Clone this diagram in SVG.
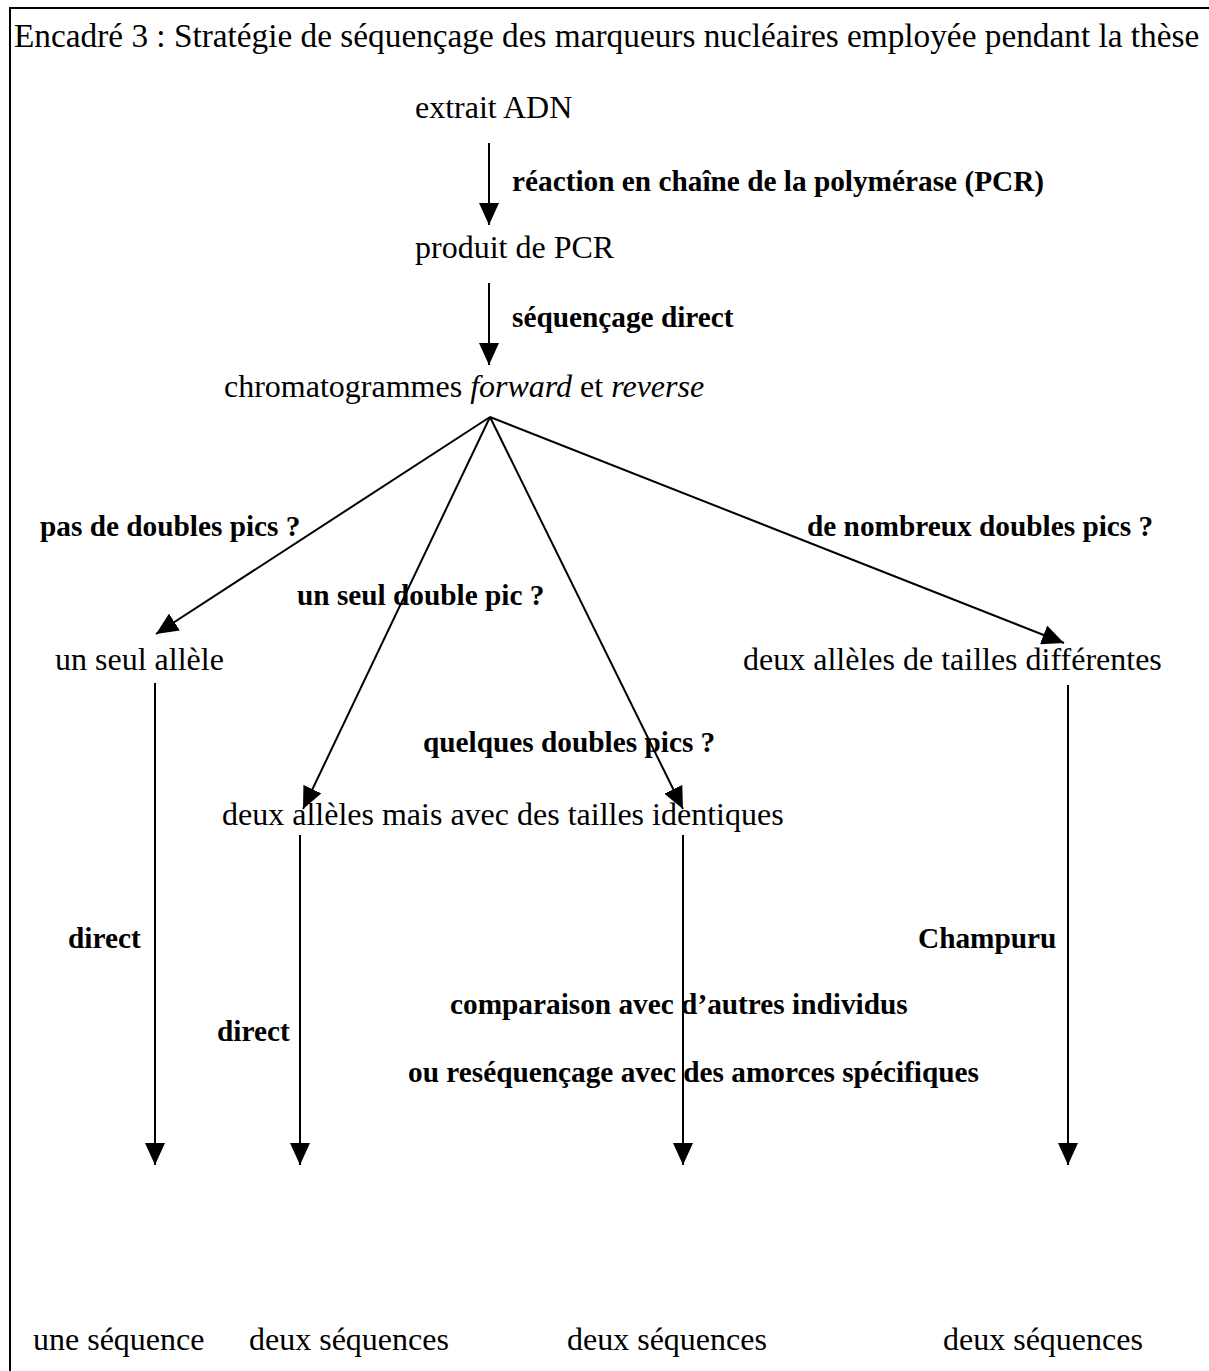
<svg xmlns="http://www.w3.org/2000/svg" width="1209" height="1371" viewBox="0 0 1209 1371">
<style>
.t{font-family:"Liberation Serif","Times New Roman",serif;font-size:32px;fill:#000}
.ttl{font-family:"Liberation Serif","Times New Roman",serif;font-size:33.3px;fill:#000}
.b{font-family:"Liberation Serif","Times New Roman",serif;font-size:29.3px;font-weight:bold;fill:#000}
.c{stroke:#000;stroke-width:2;fill:none}
</style>
<defs>
<marker id="ah" markerUnits="userSpaceOnUse" markerWidth="24" markerHeight="20" refX="22" refY="10" orient="auto">
<path d="M0,0 L22,10 L0,20 Z" fill="#000"/>
</marker>
</defs>
<rect x="10" y="8" width="1220" height="1400" fill="#fff" stroke="#000" stroke-width="2"/>
<text class="ttl" x="14" y="47">Encadré 3 : Stratégie de séquençage des marqueurs nucléaires employée pendant la thèse</text>
<g id="connectors">
<line class="c" x1="489" y1="143" x2="489" y2="225" marker-end="url(#ah)"/>
<line class="c" x1="489" y1="283" x2="489" y2="365" marker-end="url(#ah)"/>
<line class="c" x1="490" y1="417" x2="156" y2="634" marker-end="url(#ah)"/>
<line class="c" x1="490" y1="417" x2="303" y2="809" marker-end="url(#ah)"/>
<line class="c" x1="490" y1="417" x2="683" y2="809" marker-end="url(#ah)"/>
<line class="c" x1="490" y1="417" x2="1064" y2="643" marker-end="url(#ah)"/>
<line class="c" x1="155" y1="683" x2="155" y2="1165" marker-end="url(#ah)"/>
<line class="c" x1="300" y1="835" x2="300" y2="1165" marker-end="url(#ah)"/>
<line class="c" x1="683" y1="835" x2="683" y2="1165" marker-end="url(#ah)"/>
<line class="c" x1="1068" y1="685" x2="1068" y2="1165" marker-end="url(#ah)"/>
<text class="b" x="512" y="191">réaction en chaîne de la polymérase (PCR)</text>
<text class="b" x="512" y="327">séquençage direct</text>
<text class="b" x="40" y="536">pas de doubles pics ?</text>
<text class="b" x="297" y="605">un seul double pic ?</text>
<text class="b" x="807" y="536">de nombreux doubles pics ?</text>
<text class="b" x="423" y="752">quelques doubles pics ?</text>
<text class="b" x="68" y="948">direct</text>
<text class="b" x="918" y="948">Champuru</text>
<text class="b" x="217" y="1041">direct</text>
<text class="b" x="450" y="1014">comparaison avec d’autres individus</text>
<text class="b" x="408" y="1082">ou reséquençage avec des amorces spécifiques</text>
</g>
<g id="n_extrait"><text class="t" x="415" y="118">extrait ADN</text></g>
<g id="n_produit"><text class="t" x="415" y="258">produit de PCR</text></g>
<g id="n_chromato"><text class="t" x="224" y="397">chromatogrammes <tspan font-style="italic">forward</tspan> et <tspan font-style="italic">reverse</tspan></text></g>
<g id="n_seul"><text class="t" x="55" y="670">un seul allèle</text></g>
<g id="n_diff"><text class="t" x="743" y="670">deux allèles de tailles différentes</text></g>
<g id="n_ident"><text class="t" x="222" y="825">deux allèles mais avec des tailles identiques</text></g>
<g id="n_s1"><text class="t" x="33" y="1350">une séquence</text></g>
<g id="n_s2"><text class="t" x="249" y="1350">deux séquences</text></g>
<g id="n_s3"><text class="t" x="567" y="1350">deux séquences</text></g>
<g id="n_s4"><text class="t" x="943" y="1350">deux séquences</text></g>
</svg>
